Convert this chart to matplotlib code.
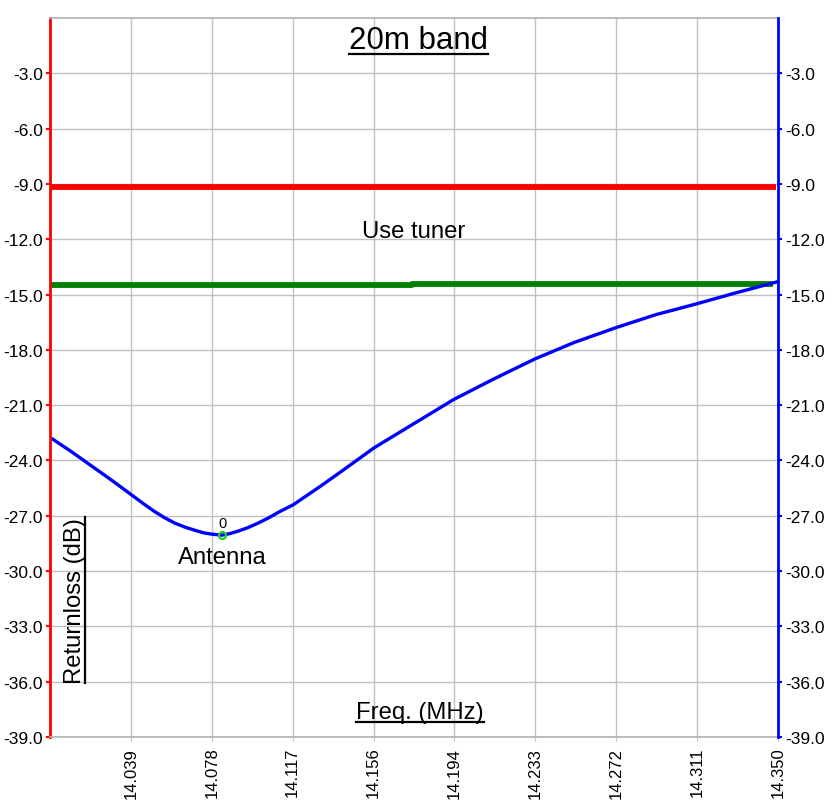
import matplotlib
matplotlib.use("Agg")
import matplotlib.pyplot as plt
from matplotlib.lines import Line2D
import numpy as np

plt.rcParams['font.family'] = ['Liberation Sans', 'DejaVu Sans']

# return loss trace (MHz, dB)
freq = [14.000, 14.010, 14.020, 14.030, 14.039, 14.045, 14.050, 14.055, 14.060,
        14.065, 14.070, 14.074, 14.078, 14.0825, 14.086, 14.090, 14.095, 14.100,
        14.105, 14.110, 14.117, 14.130, 14.140, 14.156, 14.175, 14.194, 14.213,
        14.233, 14.252, 14.272, 14.291, 14.311, 14.330, 14.350]
rloss = [-22.75, -23.5, -24.3, -25.1, -25.85, -26.35, -26.75, -27.1, -27.4,
         -27.62, -27.8, -27.93, -28.0, -28.05, -27.98, -27.85, -27.65, -27.4,
         -27.12, -26.8, -26.4, -25.4, -24.6, -23.3, -22.0, -20.7, -19.6,
         -18.5, -17.6, -16.8, -16.1, -15.5, -14.9, -14.3]

# limit lines
red_f = [14.000, 14.349]
red_db = [-9.15, -9.15]
green_f = [14.000, 14.174, 14.174, 14.3476]
green_db = [-14.5, -14.5, -14.43, -14.43]

marker_f = 14.0825
marker_db = -28.05

xtick_labels = ['14.039', '14.078', '14.117', '14.156', '14.194',
                '14.233', '14.272', '14.311', '14.350']
yticks = [-3, -6, -9, -12, -15, -18, -21, -24, -27, -30, -33, -36, -39]

W, H = 834, 804
fig = plt.figure(figsize=(W / 100, H / 100), dpi=100)
ax = fig.add_axes([50 / W, 66 / H, 728 / W, 719 / H])

xt = np.linspace(14.0, 14.35, 10)[1:]
ax.set_xlim(14.0, 14.35)
ax.set_ylim(-39, 0)
ax.set_xticks(xt)
ax.set_xticklabels(xtick_labels, rotation=90)
ax.set_yticks(yticks)
ax.set_yticklabels(['%.1f' % v for v in yticks])
ax.grid(True, color='#c0c0c0', lw=1.0)
ax.set_axisbelow(True)

ax.tick_params(axis='x', length=3, color='#c0c0c0', labelsize=12, pad=4)
ax.tick_params(axis='y', length=3, width=1.5, color='red', labelsize=12.5, pad=2)
for s in ['top', 'bottom']:
    ax.spines[s].set_color('#b0b0b0')
    ax.spines[s].set_linewidth(1.2)
ax.spines['left'].set_color('red')
ax.spines['left'].set_linewidth(2)
ax.spines['right'].set_visible(False)

ax2 = ax.twinx()
ax2.set_ylim(-39, 0)
ax2.set_yticks(yticks)
ax2.set_yticklabels(['%.1f' % v for v in yticks])
ax2.tick_params(axis='y', length=3, width=1.5, color='blue', labelsize=12.5, pad=2)
ax2.spines['right'].set_color('blue')
ax2.spines['right'].set_linewidth(2)
for s in ['top', 'bottom', 'left']:
    ax2.spines[s].set_visible(False)

ax.plot(red_f, red_db, color='red', lw=4.2, solid_capstyle='butt')
ax.plot(green_f, green_db, color='green', lw=4.2, solid_capstyle='butt')
ax.plot(freq, rloss, color='blue', lw=2.4)
ax.plot([marker_f], [marker_db], 'o', mfc='none', mec='#20d020', ms=5, mew=1.6)

tr = ax.transAxes
t_title = ax.text(0.506, 0.958, '20m band', transform=tr, ha='center', va='baseline', fontsize=22.5)
ax.text(0.5, 0.6954, 'Use tuner', transform=tr, ha='center', va='baseline', fontsize=17.2)
ax.text(0.2363, 0.242, 'Antenna', transform=tr, ha='center', va='baseline', fontsize=17.2)
ax.text(0.2363, 0.292, '0', transform=tr, ha='center', va='baseline', fontsize=10.5)
t_x = ax.text(0.508, 0.026, 'Freq. (MHz)', transform=tr, ha='center', va='baseline', fontsize=17.2)
t_y = ax.text(0.0337, 0.19, 'Returnloss (dB)', transform=tr, ha='center', va='center',
              rotation=90, fontsize=17.2)

# underline the captions
fig.canvas.draw()
r = fig.canvas.get_renderer()
for t in [t_title, t_x]:
    bb = t.get_window_extent(r)
    fig.add_artist(Line2D([bb.x0 / W, bb.x1 / W], [(bb.y0 + 1) / H, (bb.y0 + 1) / H],
                          color='black', lw=1.6))
bb = t_y.get_window_extent(r)
fig.add_artist(Line2D([(bb.x1 - 1) / W, (bb.x1 - 1) / W], [bb.y0 / H, bb.y1 / H],
                      color='black', lw=1.6))

fig.savefig('out.png', dpi=100)
